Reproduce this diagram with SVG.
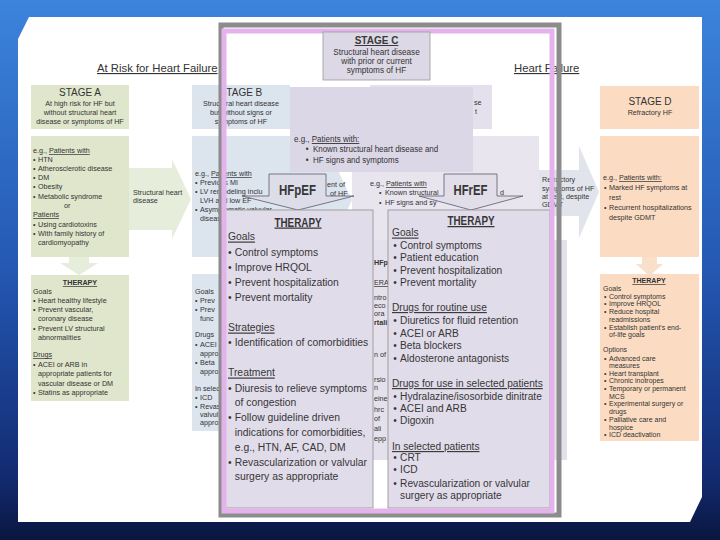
<svg xmlns="http://www.w3.org/2000/svg" width="720" height="540" viewBox="0 0 720 540">
<defs>
<linearGradient id="bg" x1="0" y1="0" x2="0" y2="1">
<stop offset="0" stop-color="#3c84dc"/>
<stop offset="0.5" stop-color="#2458b3"/>
<stop offset="0.88" stop-color="#122b72"/>
<stop offset="1" stop-color="#0a163f"/>
</linearGradient>
<style>
text{font-family:"Liberation Sans",Arial,sans-serif;fill:#333}
.s{font-size:7.2px}
.sd{font-size:7px}
.h{font-size:10px}
.c{text-anchor:middle}
.u{text-decoration:underline}
.b{font-weight:bold}
.ov{font-size:11.5px;fill:#363636}
.ov2{font-size:11.3px;fill:#363636}
.hf{font-size:14px;font-weight:bold;fill:#363636}
.th{font-size:12.5px;font-weight:bold;fill:#363636;text-decoration:underline}
.grn{fill:#dfe6cc}
.grl{fill:#e7eddb}
.blu{fill:#dce4ee}
.lav{fill:#e5e1ec}
.pch{fill:#fbdcc2}
.pcl{fill:#f9e0cb}
.ovb{fill:#e1dcea;stroke:#8e8e8e;stroke-width:0.8}
.chev{fill:#dcd8e6;fill-opacity:0.6;stroke:#5a5a6a;stroke-width:0.8}
</style>
</defs>
<rect width="720" height="540" fill="url(#bg)"/>
<polygon points="29,17 702,17 702,497 690,522 18,522 18,39" fill="#fff"/>

<g id="titles">
<text x="97" y="72" class="u" style="font-size:11.3px">At Risk for Heart Failure</text>
<text x="514" y="72" class="u" style="font-size:11.3px">Heart Failure</text>
</g>

<g id="stage-a">
<rect x="31" y="85" width="98" height="44" class="grn"/>
<text x="80" y="96" class="h c">STAGE A</text>
<text x="80" y="106" class="s c">At high risk for HF but</text>
<text x="80" y="115" class="s c">without structural heart</text>
<text x="80" y="124" class="s c">disease or symptoms of HF</text>
<rect x="31" y="136" width="98" height="121" class="grn"/>
<text x="33" y="153" class="s">e.g., <tspan class="u">Patients with</tspan></text>
<text x="33" y="162" class="s">•<tspan x="38">HTN</tspan></text>
<text x="33" y="171" class="s">•<tspan x="38">Atherosclerotic disease</tspan></text>
<text x="33" y="180" class="s">•<tspan x="38">DM</tspan></text>
<text x="33" y="189" class="s">•<tspan x="38">Obesity</tspan></text>
<text x="33" y="199" class="s">•<tspan x="38">Metabolic syndrome</tspan></text>
<text x="64" y="208" class="s">or</text>
<text x="33" y="217" class="s u">Patients</text>
<text x="33" y="227" class="s">•<tspan x="38">Using cardiotoxins</tspan></text>
<text x="33" y="236" class="s">•<tspan x="38">With family history of</tspan></text>
<text x="38" y="245" class="s">cardiomyopathy</text>
<rect x="31" y="275" width="98" height="126" class="grn"/>
<text x="80" y="285" class="s c u b">THERAPY</text>
<text x="33" y="294" class="s">Goals</text>
<text x="33" y="303" class="s">•<tspan x="38">Heart healthy lifestyle</tspan></text>
<text x="33" y="312" class="s">•<tspan x="38">Prevent vascular,</tspan></text>
<text x="38" y="321" class="s">coronary disease</text>
<text x="33" y="331" class="s">•<tspan x="38">Prevent LV structural</tspan></text>
<text x="38" y="340" class="s">abnormalities</text>
<text x="33" y="357" class="s u">Drugs</text>
<text x="33" y="367" class="s">•<tspan x="38">ACEI or ARB in</tspan></text>
<text x="38" y="376" class="s">appropriate patients for</text>
<text x="38" y="386" class="s">vascular disease or DM</text>
<text x="33" y="395" class="s">•<tspan x="38">Statins as appropriate</tspan></text>
</g>

<g id="stage-b">
<rect x="192" y="85" width="98" height="44" class="blu"/>
<text x="241" y="96" class="h c">STAGE B</text>
<text x="241" y="106" class="s c">Structural heart disease</text>
<text x="241" y="115" class="s c">but without signs or</text>
<text x="241" y="124" class="s c">symptoms of HF</text>
<rect x="192" y="136" width="98" height="121" class="blu"/>
<text x="195" y="176" class="s">e.g., <tspan class="u">Patients with</tspan></text>
<text x="195" y="185" class="s">•<tspan x="200">Previous MI</tspan></text>
<text x="195" y="194" class="s">•<tspan x="200">LV remodeling inclu</tspan></text>
<text x="200" y="203" class="s">LVH and low EF</text>
<text x="195" y="212" class="s">•<tspan x="200">Asymptomatic valvular</tspan></text>
<text x="200" y="221" class="s">disease</text>
<rect x="192" y="274" width="98" height="157" class="blu"/>
<text x="195" y="294" class="s">Goals</text>
<text x="195" y="303" class="s">•<tspan x="200">Prev</tspan></text>
<text x="195" y="312" class="s">•<tspan x="200">Prev</tspan></text>
<text x="200" y="321" class="s">func</text>
<text x="195" y="337" class="s">Drugs</text>
<text x="195" y="347" class="s">•<tspan x="200">ACEI</tspan></text>
<text x="200" y="356" class="s">appro</text>
<text x="195" y="365" class="s">•<tspan x="200">Beta</tspan></text>
<text x="200" y="374" class="s">appro</text>
<text x="195" y="391" class="s">In selec</text>
<text x="195" y="400" class="s">•<tspan x="200">ICD</tspan></text>
<text x="195" y="409" class="s">•<tspan x="200">Revas</tspan></text>
<text x="200" y="417" class="s">valvul</text>
<text x="200" y="425" class="s">appro</text>
</g>

<g id="stage-c-under">
<rect x="370" y="85" width="122" height="44" class="lav"/>
<text x="474" y="105" class="s">se</text>
<text x="475" y="114" class="s">t</text>
<rect x="352" y="136" width="187" height="121" fill="#e8e5ef"/>
<rect x="352" y="240" width="215" height="220" class="lav"/>
<text x="370" y="186" class="s">e.g., <tspan class="u">Patients with</tspan></text>
<text x="379" y="195" class="s">•<tspan x="385">Known structural</tspan></text>
<text x="379" y="205" class="s">•<tspan x="385">HF signs and sy</tspan></text>
<text x="500" y="195" class="s">d</text>
<text x="374" y="265" class="s b">HFpE</text>
<text x="374" y="285" class="s u">ERA</text>
<text x="374" y="300" class="s">ntro</text>
<text x="374" y="308" class="s">eco</text>
<text x="374" y="316" class="s">ora</text>
<text x="374" y="325" class="s b">rtali</text>
<text x="374" y="357" class="s">n of</text>
<text x="374" y="382" class="s">rsio</text>
<text x="374" y="390" class="s">n</text>
<text x="374" y="401" class="s">eine</text>
<text x="374" y="412" class="s">hrc</text>
<text x="374" y="421" class="s">of</text>
<text x="374" y="431" class="s">ali</text>
<text x="374" y="441" class="s">epp</text>
</g>

<g id="stage-d">
<rect x="600" y="86" width="99" height="43" class="pch"/>
<text x="650" y="105" class="h c">STAGE D</text>
<text x="650" y="115" class="s c">Refractory HF</text>
<rect x="600" y="136" width="99" height="121" class="pch"/>
<text x="603" y="180" class="s">e.g., <tspan class="u">Patients with:</tspan></text>
<text x="604" y="190" class="s">•<tspan x="609">Marked HF symptoms at</tspan></text>
<text x="609" y="200" class="s">rest</text>
<text x="604" y="210" class="s">•<tspan x="609">Recurrent hospitalizations</tspan></text>
<text x="609" y="220" class="s">despite GDMT</text>
<rect x="600" y="274" width="99" height="167" class="pch"/>
<text x="649" y="283" class="sd c u b">THERAPY</text>
<text x="603" y="291" class="sd">Goals</text>
<text x="604" y="298.5" class="sd">•<tspan x="609">Control symptoms</tspan></text>
<text x="604" y="306" class="sd">•<tspan x="609">Improve HRQOL</tspan></text>
<text x="604" y="314" class="sd">•<tspan x="609">Reduce hospital</tspan></text>
<text x="609" y="321.5" class="sd">readmissions</text>
<text x="604" y="329.5" class="sd">•<tspan x="609">Establish patient's end-</tspan></text>
<text x="609" y="337" class="sd">of-life goals</text>
<text x="603" y="352" class="sd">Options</text>
<text x="604" y="360.5" class="sd">•<tspan x="609">Advanced care</tspan></text>
<text x="609" y="368" class="sd">measures</text>
<text x="604" y="375.5" class="sd">•<tspan x="609">Heart transplant</tspan></text>
<text x="604" y="383" class="sd">•<tspan x="609">Chronic inotropes</tspan></text>
<text x="604" y="391" class="sd">•<tspan x="609">Temporary or permanent</tspan></text>
<text x="609" y="398.5" class="sd">MCS</text>
<text x="604" y="406" class="sd">•<tspan x="609">Experimental surgery or</tspan></text>
<text x="609" y="414" class="sd">drugs</text>
<text x="604" y="421.5" class="sd">•<tspan x="609">Palliative care and</tspan></text>
<text x="609" y="429.5" class="sd">hospice</text>
<text x="604" y="437" class="sd">•<tspan x="609">ICD deactivation</tspan></text>
</g>

<g id="connectors">
<polygon points="129,168 172,168 172,159 191,199 172,239 172,230 129,230" class="grl"/>
<text x="133" y="195" class="s">Structural heart</text>
<text x="133" y="203" class="s">disease</text>
<polygon points="69,257 89,257 89,263 98,263 79,275 60,263 69,263" class="grl"/>
<polygon points="290,168 332,168 332,158 352,200 332,242 332,232 290,232" class="blu"/>
<text x="327" y="187" class="s">ent of</text>
<text x="330" y="196" class="s">of HF</text>
<polygon points="539,170 579,170 579,146 599,192 579,238 579,216 539,216" fill="#e2e4ec"/>
<text x="542" y="182" class="s">Refractory</text>
<text x="542" y="191" class="s">symptoms of HF</text>
<text x="542" y="199" class="s">at rest, despite</text>
<text x="542" y="207" class="s">GDMT</text>
<polygon points="642,257 657,257 657,264 663,264 649.5,276 636,264 642,264" class="pcl"/>
</g>

<g id="stage-c-patients">
<rect x="290" y="87" width="183" height="85" fill="#dcd7e6"/>
<g transform="matrix(0.9,0,0,1,29.4,0)">
<text x="294" y="142" style="font-size:8.9px">e.g., <tspan class="u">Patients with:</tspan></text>
<text x="307" y="152" style="font-size:8.9px">•<tspan x="315">Known structural heart disease and</tspan></text>
<text x="307" y="163" style="font-size:8.9px">•<tspan x="315">HF signs and symptoms</tspan></text>
</g>
</g>

<g id="hfpef">
<polygon points="269,174 326,174 326,196 354,196 298,210 242,196 269,196" class="chev"/>
<text x="297.5" y="195" class="hf c" textLength="37" lengthAdjust="spacingAndGlyphs">HFpEF</text>
</g>

<g id="hfref">
<polygon points="444,174 497,174 497,196 523,196 471,210 419,196 444,196" class="chev"/>
<text x="470.5" y="195" class="hf c" textLength="34" lengthAdjust="spacingAndGlyphs">HFrEF</text>
</g>

<g id="hfpef-therapy">
<rect x="225" y="210" width="148" height="298" class="ovb"/>
<text x="298" y="226.5" class="th c" textLength="47" lengthAdjust="spacingAndGlyphs">THERAPY</text>
<g transform="matrix(0.9,0,0,1,22.8,0)">
<text x="228" y="240.5" class="ov u">Goals</text>
<text x="228" y="256" class="ov">•<tspan x="235.5">Control symptoms</tspan></text>
<text x="228" y="271" class="ov">•<tspan x="235.5">Improve HRQOL</tspan></text>
<text x="228" y="286" class="ov">•<tspan x="235.5">Prevent hospitalization</tspan></text>
<text x="228" y="301.5" class="ov">•<tspan x="235.5">Prevent mortality</tspan></text>
<text x="228" y="331.5" class="ov u">Strategies</text>
<text x="228" y="346" class="ov">•<tspan x="235.5">Identification of comorbidities</tspan></text>
<text x="228" y="376.5" class="ov u">Treatment</text>
<text x="228" y="392" class="ov">•<tspan x="235.5">Diuresis to relieve symptoms</tspan></text>
<text x="235.5" y="406" class="ov">of congestion</text>
<text x="228" y="421" class="ov">•<tspan x="235.5">Follow guideline driven</tspan></text>
<text x="235.5" y="436" class="ov">indications for comorbidities,</text>
<text x="235.5" y="451" class="ov">e.g., HTN, AF, CAD, DM</text>
<text x="228" y="466" class="ov">•<tspan x="235.5">Revascularization or valvular</tspan></text>
<text x="235.5" y="480" class="ov">surgery as appropriate</text>
</g>
</g>

<g id="hfref-therapy">
<rect x="388" y="210" width="162" height="298" class="ovb"/>
<text x="471" y="225" class="th c" textLength="47" lengthAdjust="spacingAndGlyphs">THERAPY</text>
<g transform="matrix(0.9,0,0,1,39.2,0)">
<text x="392" y="236.5" class="ov2 u">Goals</text>
<text x="393.5" y="249" class="ov2">•<tspan x="401">Control symptoms</tspan></text>
<text x="393.5" y="261" class="ov2">•<tspan x="401">Patient education</tspan></text>
<text x="393.5" y="274" class="ov2">•<tspan x="401">Prevent hospitalization</tspan></text>
<text x="393.5" y="286" class="ov2">•<tspan x="401">Prevent mortality</tspan></text>
<text x="392" y="311" class="ov2 u">Drugs for routine use</text>
<text x="393.5" y="324" class="ov2">•<tspan x="401">Diuretics for fluid retention</tspan></text>
<text x="393.5" y="337" class="ov2">•<tspan x="401">ACEI or ARB</tspan></text>
<text x="393.5" y="349" class="ov2">•<tspan x="401">Beta blockers</tspan></text>
<text x="393.5" y="362" class="ov2">•<tspan x="401">Aldosterone antagonists</tspan></text>
<text x="392" y="387" class="ov2 u">Drugs for use in selected patients</text>
<text x="393.5" y="400" class="ov2">•<tspan x="401">Hydralazine/isosorbide dinitrate</tspan></text>
<text x="393.5" y="412" class="ov2">•<tspan x="401">ACEI and ARB</tspan></text>
<text x="393.5" y="424" class="ov2">•<tspan x="401">Digoxin</tspan></text>
<text x="392" y="450" class="ov2 u">In selected patients</text>
<text x="393.5" y="461.5" class="ov2">•<tspan x="401">CRT</tspan></text>
<text x="393.5" y="473.5" class="ov2">•<tspan x="401">ICD</tspan></text>
<text x="393.5" y="487" class="ov2">•<tspan x="401">Revascularization or valvular</tspan></text>
<text x="401" y="499" class="ov2">surgery as appropriate</text>
</g>
</g>

<g id="overlay-frame" fill="none">
<rect x="221" y="25" width="338" height="490" stroke="#8c8c8c" stroke-width="5"/>
<rect x="224" y="31" width="328" height="480" stroke="#e5b3ec" stroke-width="5"/>
</g>

<g id="stage-c-header">
<rect x="323" y="32" width="107" height="48" fill="#ddd8e6" stroke="#9a9a9a" stroke-width="0.8"/>
<text x="376.5" y="44" class="h c u b" style="fill:#3a3a3a">STAGE C</text>
<text x="376.5" y="55" class="c" style="font-size:8.2px">Structural heart disease</text>
<text x="376.5" y="64" class="c" style="font-size:8.2px">with prior or current</text>
<text x="376.5" y="73" class="c" style="font-size:8.2px">symptoms of HF</text>
</g>
</svg>
